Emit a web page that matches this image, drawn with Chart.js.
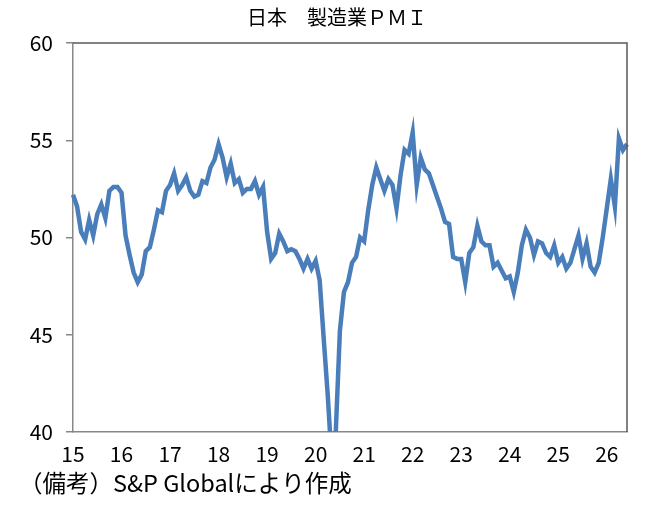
<!DOCTYPE html>
<html>
<head>
<meta charset="utf-8">
<script src="https://cdn.jsdelivr.net/npm/chart.js@4.4.1/dist/chart.umd.min.js"></script>
<style>
  html, body { margin: 0; padding: 0; background: #fff; }
  #wrap { position: relative; width: 651px; height: 516px; }
</style>
</head>
<body>
<div id="wrap"><canvas id="myChart" width="651" height="516"></canvas></div>
<script>
//! monthly values (Jan..Dec)
const pmi2015 = [52.2, 51.6, 50.3, 49.9, 50.9, 50.1, 51.2, 51.7, 51.0, 52.4, 52.6, 52.6];
const pmi2016 = [52.3, 50.1, 49.1, 48.2, 47.7, 48.1, 49.3, 49.5, 50.4, 51.4, 51.3, 52.4];
const pmi2017 = [52.7, 53.3, 52.4, 52.7, 53.1, 52.4, 52.1, 52.2, 52.9, 52.8, 53.6, 54.0];
const pmi2018 = [54.8, 54.1, 53.1, 53.8, 52.8, 53.0, 52.3, 52.5, 52.5, 52.9, 52.2, 52.6];
const pmi2019 = [50.3, 48.9, 49.2, 50.2, 49.8, 49.3, 49.4, 49.3, 48.9, 48.4, 48.9, 48.4];
const pmi2020 = [48.8, 47.8, 44.8, 41.9, 38.4, 40.1, 45.2, 47.2, 47.7, 48.7, 49.0, 50.0];
const pmi2021 = [49.8, 51.4, 52.7, 53.6, 53.0, 52.4, 53.0, 52.7, 51.5, 53.2, 54.5, 54.3];
const pmi2022 = [55.4, 52.7, 54.1, 53.5, 53.3, 52.7, 52.1, 51.5, 50.8, 50.7, 49.0, 48.9];
const pmi2023 = [48.9, 47.7, 49.2, 49.5, 50.6, 49.8, 49.6, 49.6, 48.5, 48.7, 48.3, 47.9];
const pmi2024 = [48.0, 47.2, 48.2, 49.6, 50.4, 50.0, 49.1, 49.8, 49.7, 49.2, 49.0, 49.6];
const pmi2025 = [48.7, 49.0, 48.4, 48.7, 49.4, 50.1, 48.9, 49.7, 48.5, 48.2, 48.7, 50.0];
const pmi2026 = [51.5, 53.0, 51.6, 55.1, 54.5, 54.8];

const yearLabels = ["15", "16", "17", "18", "19", "20", "21", "22", "23", "24", "25", "26"];
const yMin = 40, yMax = 60, yStep = 5;
const chartTitle = "日本　製造業ＰＭＩ";
const sourceNote = "（備考）S&P Globalにより作成";

const allYears = [pmi2015, pmi2016, pmi2017, pmi2018, pmi2019, pmi2020,
                  pmi2021, pmi2022, pmi2023, pmi2024, pmi2025, pmi2026];

//! build month labels: only January shows the 2-digit year
let pmiValues = [];
let monthLabels = [];
for (let y = 0; y < allYears.length; y++) {
    for (let m = 0; m < allYears[y].length; m++) {
        pmiValues.push(allYears[y][m]);
        monthLabels.push(m === 0 ? yearLabels[y] : "");
    }
}

const jpFont = "'Noto Sans CJK JP', 'Noto Sans', sans-serif";

//! frame on top/right + title and note
const frameAndText = {
    id: "frameAndText",
    afterDatasetsDraw(chart) {
        const { ctx, chartArea: a } = chart;
        ctx.save();
        ctx.strokeStyle = "#595959";
        ctx.lineWidth = 1.5;
        ctx.beginPath();
        ctx.moveTo(a.left, a.top);
        ctx.lineTo(a.right, a.top);
        ctx.lineTo(a.right, a.bottom);
        ctx.stroke();
        ctx.restore();
    },
    afterDraw(chart) {
        const ctx = chart.ctx;
        ctx.save();
        ctx.fillStyle = "#000";
        ctx.textBaseline = "middle";
        ctx.font = "20px " + jpFont;
        ctx.textAlign = "center";
        ctx.fillText(chartTitle, 337, 17);
        ctx.font = "23.5px " + jpFont;
        ctx.textAlign = "left";
        ctx.fillText(sourceNote, 19, 483);
        ctx.restore();
    }
};

const ctx = document.getElementById("myChart");
const myChart = new Chart(ctx, {
    type: "line",
    data: {
        labels: monthLabels,
        datasets: [{
            data: pmiValues,
            borderColor: "#4a7ebb",
            borderWidth: 4.5,
            pointRadius: 0,
            tension: 0,
            fill: false
        }]
    },
    options: {
        responsive: false,
        animation: false,
        devicePixelRatio: 1,
        layout: { padding: { left: 0, top: 43, right: 24, bottom: 0 } },
        plugins: {
            legend: { display: false },
            tooltip: { enabled: false }
        },
        scales: {
            x: {
                type: "category",
                offset: false,
                afterFit(scale) { scale.height = 84; },
                grid: { display: false, drawTicks: false },
                border: { display: true, color: "#878787", width: 1.5 },
                ticks: {
                    autoSkip: false,
                    maxRotation: 0,
                    minRotation: 0,
                    padding: 9,
                    color: "#000",
                    font: { family: jpFont, size: 21 },
                    callback: function (val, i) { return monthLabels[i]; }
                }
            },
            y: {
                min: yMin,
                max: yMax,
                afterFit(scale) { scale.width = 73; },
                grid: { drawOnChartArea: false, drawTicks: true, tickLength: 7, color: "#878787", lineWidth: 1.5 },
                border: { display: true, color: "#878787", width: 1.5 },
                ticks: {
                    stepSize: yStep,
                    padding: 13,
                    color: "#000",
                    font: { family: jpFont, size: 21 }
                }
            }
        }
    },
    plugins: [frameAndText]
});
</script>
</body>
</html>
